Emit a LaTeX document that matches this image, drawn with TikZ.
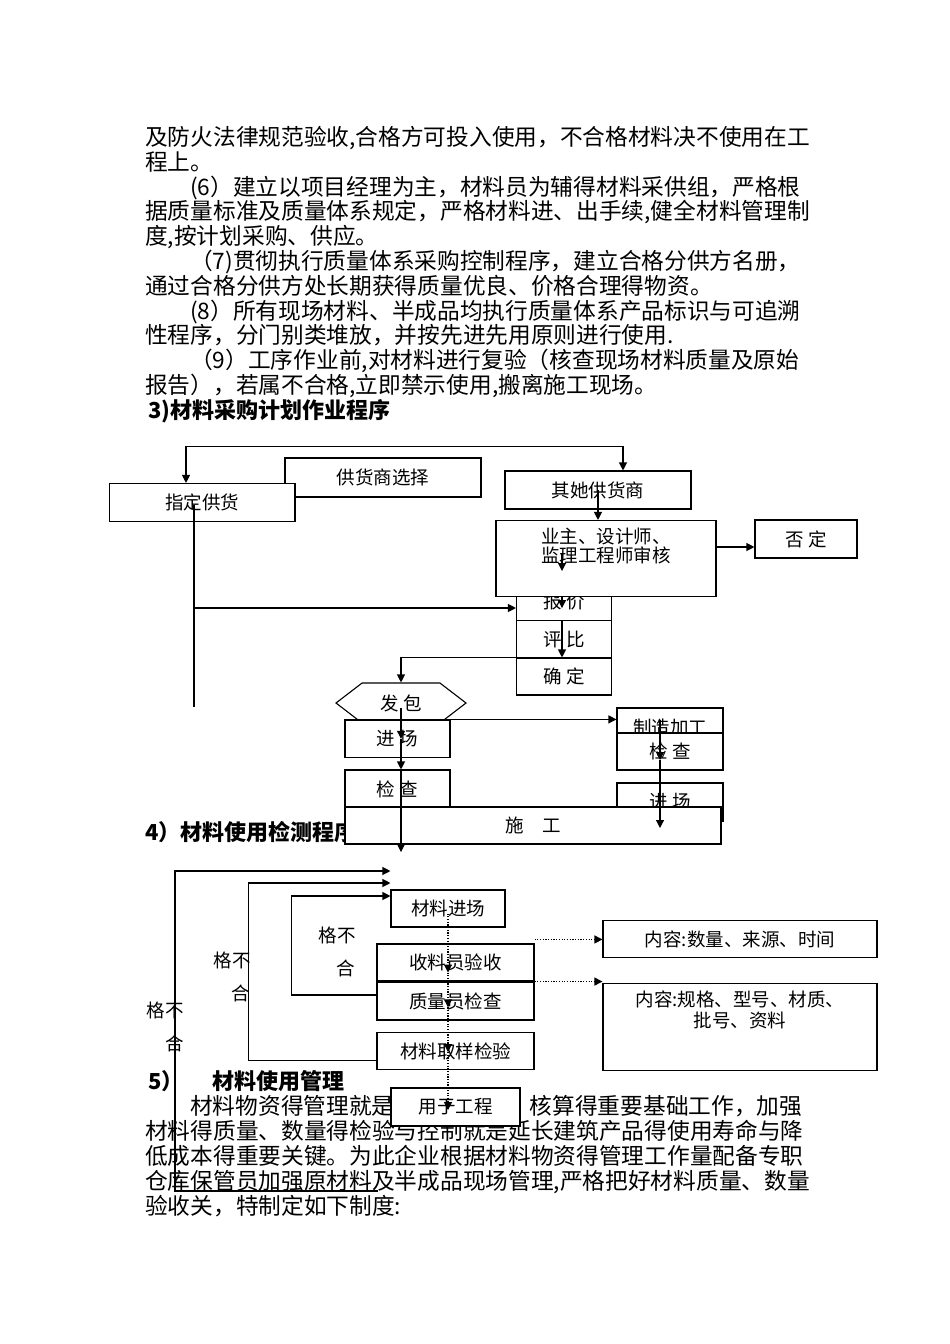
\documentclass[tikz,border=0pt]{standalone}
\usepackage{fontspec}
\setmainfont{Noto Sans CJK SC}
\usetikzlibrary{arrows.meta}
\usetikzlibrary{calc}
\usetikzlibrary{shapes.symbols}
\XeTeXlinebreaklocale "zh"
\XeTeXlinebreakskip=0pt plus 2pt
\newcommand{\fullline}[2]{\makebox[#1][s]{#2}}

\tikzset{
  txt/.style={anchor=west,inner sep=0pt,text height=19pt,text depth=4pt,
    font=\fontsize{22.7pt}{25pt}\selectfont},
  hd/.style={txt,font=\fontsize{22pt}{25pt}\selectfont\bfseries},
  box/.style={draw,fill=white,line width=1.1pt,inner sep=0pt,
    font=\fontsize{18.5pt}{19pt}\selectfont},
  hexa/.style={box,shape=signal,signal to=east and west,signal pointer angle=75,
    minimum width=130pt,minimum height=40pt},
  lbl/.style={inner sep=0pt,font=\fontsize{18.5pt}{19pt}\selectfont},
  line/.style={line width=1.1pt},
  arr/.style={line,-{Triangle[length=8pt,width=8pt]}},
  arr2/.style={line,{Triangle[length=8pt,width=8pt]}-{Triangle[length=8pt,width=8pt]}},
  dotarr/.style={arr,dash pattern=on 1.2pt off 1.5pt}
}

\begin{document}
\begin{tikzpicture}[x=1pt,y=-1pt]
  \useasboundingbox (0,0) rectangle (950,1344);
  \fill[white] (0,0) rectangle (950,1344);

  % text above the charts
  \node[txt] (p1) at (145,138) {\fullline{660pt}{及防火法律规范验收,合格方可投入使用，不合格材料决不使用在工}};
  \node[txt] (p2) at (145,163) {程上。};
  \node[txt] (p3) at (190,188) {\fullline{615pt}{(6）建立以项目经理为主，材料员为辅得材料采供组，严格根}};
  \node[txt] (p4) at (145,212) {\fullline{660pt}{据质量标准及质量体系规定，严格材料进、出手续,健全材料管理制}};
  \node[txt] (p5) at (145,237) {度,按计划采购、供应。};
  \node[txt] (p6) at (190,262) {\fullline{615pt}{（7)贯彻执行质量体系采购控制程序，建立合格分供方名册，}};
  \node[txt] (p7) at (145,287) {通过合格分供方处长期获得质量优良、价格合理得物资。};
  \node[txt] (p8) at (190,312) {\fullline{615pt}{(8）所有现场材料、半成品均执行质量体系产品标识与可追溯}};
  \node[txt] (p9) at (145,336) {性程序，分门别类堆放，并按先进先用原则进行使用.};
  \node[txt] (p10) at (190,361) {\fullline{615pt}{（9）工序作业前,对材料进行复验（核查现场材料质量及原始}};
  \node[txt] (p11) at (145,386) {报告），若属不合格,立即禁示使用,搬离施工现场。};
  \node[hd] (h3) at (148,411) {3)材料采购计划作业程序};
  \node[hd] (h4) at (145,833) {4）材料使用检测程序};
  % text below the charts
  \node[hd] (h5) at (148,1082) {5）\hspace{1.3em}材料使用管理};
  \node[txt] (p12a) at (190,1107) {材料物资得管理就是};
  \node[txt,anchor=east] (p12b) at (805,1107) {\fullline{275pt}{核算得重要基础工作，加强}};
  \node[txt] (p13) at (145,1132) {\fullline{660pt}{材料得质量、数量得检验与控制就是延长建筑产品得使用寿命与降}};
  \node[txt] (p14) at (145,1157) {\fullline{660pt}{低成本得重要关键。为此企业根据材料物资得管理工作量配备专职}};
  \node[txt] (p15) at (145,1182) {\fullline{660pt}{仓库保管员加强原材料及半成品现场管理,严格把好材料质量、数量}};
  \node[txt] (p16) at (145,1207) {验收关，特制定如下制度:};

  % purchasing chart
  \node[box,minimum width=196pt,minimum height=39pt] (gxs) at (383,477.5) {供货商选择};
  \node[box,minimum width=185.5pt,minimum height=38pt] (zdgh) at (202.25,502.5) {指定供货};
  \node[box,minimum width=186pt,minimum height=38pt] (qtgh) at (598,490) {其她供货商};
  \node[box,minimum width=95pt,minimum height=38pt] (baojia) at (564,602) {报 价};
  \node[box,minimum width=220pt,minimum height=76pt,
    label={[lbl,anchor=north,yshift=-8pt,align=center]north:业主、设计师、\\监理工程师审核}]
    (shenhe) at (606,558.5) {};
  \node[box,minimum width=102pt,minimum height=38pt] (fouding) at (806,539) {否 定};
  \node[box,minimum width=95pt,minimum height=37.3pt] (pingbi) at (564,639.3) {评 比};
  \node[box,minimum width=95pt,minimum height=37pt] (queding) at (564,676.5) {确 定};
  \node[hexa] (fabao) at (401,703) {发 包};
  \node[box,minimum width=105pt,minimum height=37.7pt] (jinchang) at (397.5,738.8) {进 场};
  \node[box,minimum width=105pt,minimum height=38pt] (jiancha) at (397.5,789) {检 查};
  \node[box,minimum width=106pt,minimum height=38pt] (zhizao) at (670,727) {制造加工};
  \node[box,minimum width=106pt,minimum height=37pt] (jianchaR) at (670,751.5) {检 查};
  \node[box,minimum width=106pt,minimum height=38pt] (jinchangR) at (670,802) {进 场};
  \node[box,minimum width=376pt,minimum height=37pt] (shigong) at (533,825.5) {施　工};

  % checking chart
  \node[box,minimum width=114pt,minimum height=37pt] (cljc) at (448,908.5) {材料进场};
  \node[box,minimum width=157pt,minimum height=37pt] (slyys) at (455.5,962.5) {收料员验收};
  \node[box,minimum width=157pt,minimum height=37.3pt] (zlyjc) at (455.5,1001.3) {质量员检查};
  \node[box,minimum width=157pt,minimum height=36.6pt] (clqy) at (455.5,1051) {材料取样检验};
  \node[box,minimum width=129pt,minimum height=38pt] (yygc) at (455.5,1107) {用于工程};
  \node[box,minimum width=274pt,minimum height=37pt] (nr1) at (740,939.2) {内容:数量、来源、时间};
  \node[box,minimum width=274pt,minimum height=86.7pt,
    label={[lbl,anchor=north,yshift=-8pt,align=center,font=\fontsize{18.5pt}{21pt}\selectfont]north:内容:规格、型号、材质、\\批号、资料}]
    (nr2) at (740,1026.7) {};
  \node[lbl] (bhg3a) at (337,935) {格不};
  \node[lbl] (bhg3b) at (346,968) {合};
  \node[lbl] (bhg2a) at (232,960) {格不};
  \node[lbl] (bhg2b) at (241,993) {合};
  \node[lbl] (bhg1a) at (165,1010) {格不};
  \node[lbl] (bhg1b) at (175,1043) {合};

  % connectors, purchasing
  \coordinate (topl) at (186,446.7);
  \draw[arr2] (topl |- zdgh.north) -- (topl) -| ($(qtgh.north)+(25,0)$);
  \coordinate (zdtop) at (194,505);
  \coordinate (zdbot) at (194,707);
  \draw[line] (zdtop) -- (zdbot);
  \draw[arr] ($(zdtop |- baojia.west)+(0,6)$) -- ($(baojia.west)+(0,6)$);
  \draw[arr] (qtgh.center) -- (qtgh.center |- shenhe.north);
  \draw[arr] ($(shenhe.east)+(0,-11.5)$) -- ($(shenhe.east -| fouding.west)+(0,-11.5)$);
  \coordinate (sh1) at (562,553);
  \draw[arr] (sh1) -- ++(0,18);
  \draw[arr] (sh1 |- shenhe.south) -- ++(0,11);
  \draw[arr] (sh1 |- pingbi.north) -- (sh1 |- queding.north);
  \draw[arr] (sh1 |- queding.north) -| (fabao.north);
  \draw[arr] ($(fabao.center)+(0,5)$) -- (fabao.center |- jinchang.center);
  \draw[arr] (fabao.center |- jinchang.center) -- (fabao.center |- jiancha.north);
  \coordinate (sgbot) at (401,852);
  \draw[arr] (fabao.center |- jiancha.north) -- (sgbot);
  \draw[arr] (jinchang.north east) -- (jinchang.north east -| zhizao.west);
  \coordinate (r1) at (660,720);
  \coordinate (r2) at (660,760);
  \coordinate (r3) at (660,828);
  \draw[arr] (r1) -- (r2);
  \draw[arr] (r2) -- (r3);

  % connectors, checking
  \coordinate (top1) at (175,871);
  \coordinate (top2) at (248.6,883);
  \coordinate (top3) at (291.8,896);
  \coordinate (ret1) at (378,1191);
  \draw[arr] (ret1) -| (top1) -- (top1 -| cljc.west);
  \draw[arr] ($(clqy.west)+(0,9.7)$) -| (top2) -- (top2 -| cljc.west);
  \draw[arr] ($(zlyjc.west)+(0,-6.3)$) -| (top3) -- (top3 -| cljc.west);
  \draw[dotarr] ($(cljc.center)+(0,5)$) -- ($(cljc.center |- slyys.center)+(0,10)$);
  \draw[dotarr] ($(cljc.center |- slyys.center)+(0,10)$) -- ($(cljc.center |- zlyjc.center)+(0,6)$);
  \draw[dotarr] ($(cljc.center |- zlyjc.center)+(0,6)$) -- ($(cljc.center |- clqy.center)+(0,1)$);
  \draw[dotarr] ($(cljc.center |- clqy.center)+(0,1)$) -- ($(cljc.center |- yygc.center)+(0,3)$);
  \draw[dotarr] ($(slyys.north east)+(0,-4)$) -- ($(slyys.north east -| nr1.west)+(0,-4)$);
  \draw[dotarr] (slyys.south east) -- (slyys.south east -| nr2.west);
\end{tikzpicture}
\end{document}
